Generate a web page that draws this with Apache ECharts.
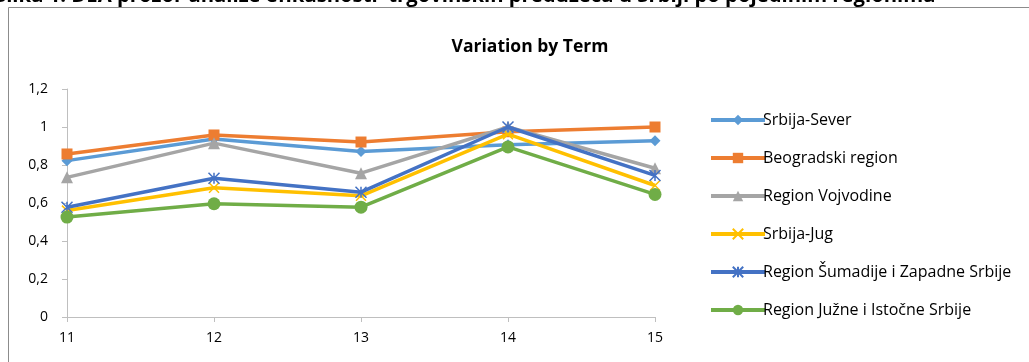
<!DOCTYPE html>
<html><head><meta charset="utf-8">
<script src="https://cdn.jsdelivr.net/npm/echarts@6/dist/echarts.min.js"></script>
<style>html,body{margin:0;padding:0;background:#fff}#c{width:1029px;height:362px}</style>
</head><body><div id="c"></div>
<script>
const categories = ['11','12','13','14','15'];
const seriesNames = ['Srbija-Sever','Beogradski region','Region Vojvodine','Srbija-Jug','Region Šumadije i Zapadne Srbije','Region Južne i Istočne Srbije'];
const srbijaSever = [0.823, 0.937, 0.871, 0.907, 0.928];
const beogradski = [0.858, 0.958, 0.921, 0.975, 1.0];
const vojvodina = [0.735, 0.915, 0.757, 1.0, 0.783];
const srbijaJug = [0.56, 0.68, 0.638, 0.962, 0.692];
const sumadija = [0.578, 0.73, 0.657, 1.0, 0.745];
const juzna = [0.526, 0.596, 0.578, 0.895, 0.645];
const colors = ['#5B9BD5','#ED7D31','#A5A5A5','#FFC000','#4472C4','#70AD47'];
const symbols = ['diamond','rect','triangle','path://M0,0L10,10M10,0L0,10','path://M0,0L10,10M10,0L0,10M5,0L5,10','circle'];
const symbolSizes = [11, 11, 12, 10, 11, 13];
const allData = [srbijaSever, beogradski, vojvodina, srbijaJug, sumadija, juzna];
const fontFam = '"Open Sans", sans-serif';

const chart = echarts.init(document.getElementById('c'));
const series = allData.map((d, i) => {
  const isCross = i === 3 || i === 4;
  return {
    name: seriesNames[i], type: 'line', data: d,
    symbol: symbols[i],
    symbolSize: symbolSizes[i],
    showSymbol: true,
    lineStyle: {width: 3.5, color: colors[i]},
    itemStyle: isCross ? {color: 'transparent', borderColor: colors[i], borderWidth: 1.5} : {color: colors[i], borderColor: colors[i], borderWidth: 0},
    z: 2 + i
  };
});
chart.setOption({
  animation: false,
  textStyle: {fontFamily: fontFam},
  title: {text: 'Variation by Term', left: 525, textAlign: 'center', top: 33,
    textStyle: {fontSize: 17.5, fontWeight: 'bold', color: '#000', fontFamily: fontFam}},
  legend: {
    orient: 'vertical', left: 704, top: 107, itemGap: 22, itemWidth: 54, itemHeight: 13,
    lineStyle: {width: 4},
    textStyle: {fontSize: 16, color: '#000', fontFamily: fontFam, padding: [0,0,0,-7]},
    data: seriesNames
  },
  grid: {left: 67, right: 374, top: 89, bottom: 45, containLabel: false},
  xAxis: {
    type: 'category', data: categories, boundaryGap: false,
    axisLine: {lineStyle: {color: '#BFBFBF', width: 1}},
    axisTick: {show: true, alignWithLabel: true, length: 5, lineStyle: {color: '#BFBFBF'}},
    axisLabel: {color: '#000', fontSize: 14, margin: 14, fontFamily: fontFam},
    splitLine: {show: false}
  },
  yAxis: {
    type: 'value', min: 0, max: 1.2, interval: 0.2,
    axisLine: {show: true, lineStyle: {color: '#BFBFBF', width: 1}},
    axisTick: {show: true, length: 5, lineStyle: {color: '#BFBFBF'}},
    axisLabel: {color: '#000', fontSize: 14, margin: 19, fontFamily: fontFam,
      formatter: v => String(Math.round(v*10)/10).replace('.', ',')},
    splitLine: {show: false}
  },
  graphic: [
    {type: 'rect', shape: {x: 8.5, y: 7.5, width: 1100, height: 400}, style: {fill: 'none', stroke: '#8C8C8C', lineWidth: 1}, z: -1},
    {type: 'text', left: -5, top: -14, style: {text: 'Slika 1. DEA prozor analize efikasnosti  trgovinskih preduzeća u Srbiji po pojedinim regionima', font: 'bold 20.3px ' + fontFam, fill: '#000'}}
  ],
  series: series
});
</script></body></html>
